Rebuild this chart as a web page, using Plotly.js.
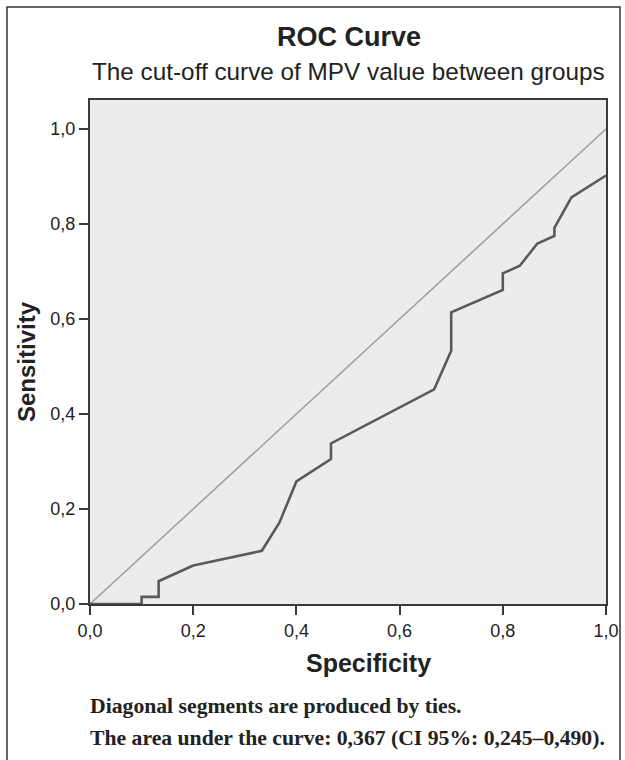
<!DOCTYPE html>
<html>
<head>
<meta charset="utf-8">
<script src="https://cdn.plot.ly/plotly-3.0.1.min.js"></script>
<style>
  html, body { margin: 0; padding: 0; background: #ffffff; }
  #chart { width: 625px; height: 760px; }
</style>
</head>
<body>
<div id="chart"></div>
<script>
const rocSpecificity = [0, 0.1, 0.1, 0.133, 0.133, 0.2, 0.333, 0.367, 0.4, 0.467, 0.467, 0.667, 0.7, 0.7, 0.8, 0.8, 0.833, 0.867, 0.9, 0.9, 0.933, 1.0];
const rocSensitivity = [0, 0, 0.015, 0.015, 0.048, 0.081, 0.112, 0.171, 0.258, 0.305, 0.338, 0.452, 0.533, 0.614, 0.661, 0.696, 0.712, 0.759, 0.775, 0.792, 0.856, 0.902];
const refLineX = [0, 1];
const refLineY = [0, 1];
const tickVals = [0, 0.2, 0.4, 0.6, 0.8, 1.0];
const tickText = ["0,0", "0,2", "0,4", "0,6", "0,8", "1,0"];

const traces = [
  {
    x: refLineX, y: refLineY, mode: 'lines', type: 'scatter',
    line: { color: '#a0a0a0', width: 1.6 }, hoverinfo: 'skip', showlegend: false
  },
  {
    x: rocSpecificity, y: rocSensitivity, mode: 'lines', type: 'scatter',
    line: { color: '#5a5a5a', width: 2.6 }, showlegend: false
  }
];

const sans = 'Liberation Sans, Arial, sans-serif';
const serif = 'Liberation Serif, Times New Roman, serif';

const axisCommon = {
  showgrid: false, zeroline: false, showline: true, mirror: true,
  linecolor: '#3a3a3a', linewidth: 2,
  ticks: 'outside', ticklen: 9, tickwidth: 2, tickcolor: '#3a3a3a',
  tickvals: tickVals, ticktext: tickText,
  tickfont: { family: sans, size: 18, color: '#222' }
};

// plot area: x 90..606 px, y 100..604 px
const px = v => (v - 90) / 516;
const py = v => (604 - v) / 504;

const layout = {
  width: 625, height: 760,
  paper_bgcolor: '#ffffff', plot_bgcolor: '#ececec',
  margin: { l: 90, r: 19, t: 100, b: 156 },
  xaxis: Object.assign({}, axisCommon, { range: [0, 1.0] }),
  yaxis: Object.assign({}, axisCommon, { range: [0, 1.061] }),
  shapes: [
    { type: 'rect', xref: 'paper', yref: 'paper',
      x0: px(7), x1: px(620), y0: py(780), y1: py(7),
      line: { color: '#333', width: 1.5 }, fillcolor: 'rgba(0,0,0,0)' }
  ],
  annotations: [
    { text: '<b>ROC Curve</b>', xref: 'paper', yref: 'paper', x: px(349), y: py(37),
      xanchor: 'center', yanchor: 'middle', showarrow: false,
      font: { family: sans, size: 27, color: '#222' } },
    { text: 'The cut-off curve of MPV value between groups', xref: 'paper', yref: 'paper', x: px(348), y: py(72),
      xanchor: 'center', yanchor: 'middle', showarrow: false,
      font: { family: sans, size: 24.3, color: '#222' } },
    { text: '<b>Specificity</b>', xref: 'paper', yref: 'paper', x: px(368), y: py(663),
      xanchor: 'center', yanchor: 'middle', showarrow: false,
      font: { family: sans, size: 25, color: '#222' } },
    { text: '<b>Sensitivity</b>', xref: 'paper', yref: 'paper', x: px(27), y: py(362),
      xanchor: 'center', yanchor: 'middle', showarrow: false, textangle: -90,
      font: { family: sans, size: 24, color: '#222' } },
    { text: '<b>Diagonal segments are produced by ties.</b>', xref: 'paper', yref: 'paper', x: px(88), y: py(706),
      xanchor: 'left', yanchor: 'middle', showarrow: false,
      font: { family: serif, size: 21.7, color: '#222' } },
    { text: '<b>The area under the curve: 0,367 (CI 95%: 0,245–0,490).</b>', xref: 'paper', yref: 'paper', x: px(88), y: py(738),
      xanchor: 'left', yanchor: 'middle', showarrow: false,
      font: { family: serif, size: 21.7, color: '#222' } }
  ]
};

Plotly.newPlot('chart', traces, layout, { displayModeBar: false, staticPlot: true });
</script>
</body>
</html>
